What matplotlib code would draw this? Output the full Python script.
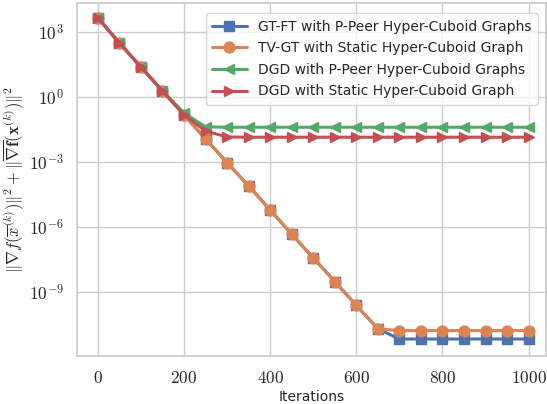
import numpy as np
import matplotlib
matplotlib.use("Agg")
import matplotlib.pyplot as plt
import matplotlib.ticker as mticker
import seaborn as sns

# iterations where values were read (every 50)
iters = np.arange(0, 1001, 50)

# log10 of the gradient measure
gtft_log = [3.65, 2.49, 1.38, 0.28, -0.83, -1.94, -3.03, -4.11, -5.21, -6.34, -7.42,
            -8.52, -9.62, -10.70, -11.17, -11.17, -11.17, -11.17, -11.17, -11.17, -11.17]
tvgt_log = [3.65, 2.49, 1.38, 0.28, -0.83, -1.94, -3.03, -4.11, -5.21, -6.34, -7.42,
            -8.52, -9.62, -10.70, -10.78, -10.78, -10.78, -10.78, -10.78, -10.78, -10.78]
dgd_pp_log = [3.65, 2.49, 1.38, 0.28, -0.74, -1.38, -1.40, -1.40, -1.40, -1.40, -1.40,
              -1.40, -1.40, -1.40, -1.40, -1.40, -1.40, -1.40, -1.40, -1.40, -1.40]
dgd_st_log = [3.65, 2.49, 1.38, 0.28, -0.83, -1.57, -1.85, -1.86, -1.86, -1.86, -1.86,
              -1.86, -1.86, -1.86, -1.86, -1.86, -1.86, -1.86, -1.86, -1.86, -1.86]

labels = ["GT-FT with P-Peer Hyper-Cuboid Graphs",
          "TV-GT with Static Hyper-Cuboid Graph",
          "DGD with P-Peer Hyper-Cuboid Graphs",
          "DGD with Static Hyper-Cuboid Graph"]

sns.set_theme(style="whitegrid")
plt.rcParams["font.family"] = ["DejaVu Sans"]
plt.rcParams["mathtext.fontset"] = "cm"

pal = sns.color_palette("deep")

fig = plt.figure(figsize=(5.47, 4.04), dpi=100)
ax = fig.add_axes([0.141, 0.119, 0.857, 0.874])

series = [gtft_log, tvgt_log, dgd_pp_log, dgd_st_log]
markers = ["s", "o", "<", ">"]
for vals, lab, mk, c in zip(series, labels, markers, pal[:4]):
    ax.plot(iters, 10.0 ** np.array(vals), marker=mk, color=c, lw=2.2,
            markersize=7.8, label=lab)

ax.set_yscale("log")
ax.set_ylim(10 ** -11.95, 10 ** 4.34)
ax.set_xlim(-48, 1040)
ax.yaxis.set_major_locator(mticker.FixedLocator([1e-9, 1e-6, 1e-3, 1e0, 1e3]))
ax.yaxis.set_minor_locator(mticker.NullLocator())
ax.yaxis.set_major_formatter(mticker.FuncFormatter(
    lambda v, p: r"$10^{%d}$" % int(round(np.log10(v)))))
ax.xaxis.set_major_locator(mticker.FixedLocator([0, 200, 400, 600, 800, 1000]))
ax.xaxis.set_major_formatter(mticker.FuncFormatter(lambda v, p: r"$%d$" % v))
ax.tick_params(labelsize=12.5, colors="#262626")

ax.set_xlabel("Iterations", fontsize=10, labelpad=2)
ax.set_ylabel(r"$\|\nabla f(\overline{x}^{(k)})\|^2+\|\overline{\nabla \mathbf{f}}(\mathbf{x}^{(k)})\|^2$",
              fontsize=12, labelpad=2)

ax.legend(loc="upper right", fontsize=10, frameon=True, handlelength=2.5,
          borderpad=0.45, labelspacing=0.55, handletextpad=0.8,
          bbox_to_anchor=(0.997, 0.99))

fig.savefig("out.png", dpi=100)
